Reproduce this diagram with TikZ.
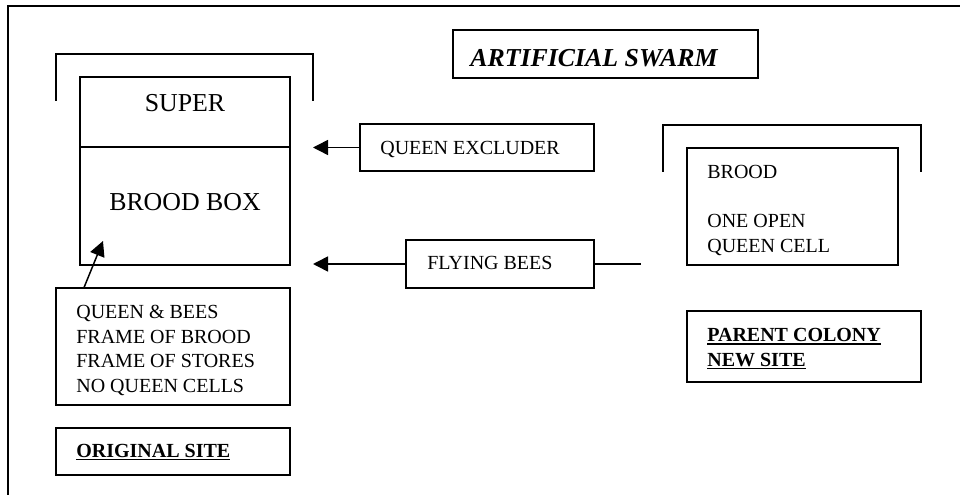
\documentclass[tikz,border=0pt]{standalone}
\usepackage{fontspec}
\setmainfont{Liberation Serif}
\usetikzlibrary{arrows.meta,calc}
% thick underline for the site labels
\newcommand{\sitebar}[1]{\vtop{\hbox{#1}\kern1pt\hrule height 0.9pt}}

\begin{document}
\begin{tikzpicture}[x=0.6pt,y=-0.6pt,
  box/.style={draw,line width=1pt,rectangle,inner sep=0pt},
  txt/.style={inner sep=0pt,anchor=base west,align=left,
    font=\fontsize{12}{14.7}\selectfont},
  big/.style={inner sep=0pt,anchor=base,font=\fontsize{15.5}{18}\selectfont},
  arr/.style={-{Triangle[length=9pt,width=9pt]},line width=0.9pt},
  lid/.style={line width=1pt}]
\useasboundingbox (0,0) rectangle (960,495);

% outer frame
\draw[line width=0.7pt] (960,6) -| (8,495);

% title
\node[box,minimum width=183pt,minimum height=28.8pt] (title) at (605.5,54) {};
\node[big,anchor=base west,font=\fontsize{15.5}{18}\selectfont\bfseries\itshape] (ttitle) at (470,67) {ARTIFICIAL SWARM};

% original hive: roof, super and brood box
\draw[lid] (56,101) |- (313,54) -- (313,101);
\node[box,minimum width=126pt,minimum height=42pt] (super) at (185,112) {};
\node[big] (tsuper) at (185,112) {SUPER};
\node[box,minimum width=126pt,minimum height=70.8pt] (broodbox) at (185,206) {};
\node[big] (tbroodbox) at (185,211) {BROOD BOX};

% queen excluder
\node[box,minimum width=140.4pt,minimum height=28.2pt] (qe) at (477,147.5) {};
\node[txt] (tqe) at (380,155) {QUEEN EXCLUDER};

% flying bees
\node[box,minimum width=112.8pt,minimum height=28.8pt] (fb) at (500,264) {};
\node[txt] (tfb) at (427,270) {FLYING BEES};

% contents of the swarm box (multi-line labels sit on their last baseline)
\node[box,minimum width=140.4pt,minimum height=70.2pt] (qb) at (173,346.5) {};
\node[txt] (tqb) at (76,392) {QUEEN \& BEES\\FRAME OF BROOD\\FRAME OF STORES\\NO QUEEN CELLS};

\node[box,minimum width=140.4pt,minimum height=28.2pt] (os) at (173,451.5) {};
\node[txt,font=\fontsize{12}{14.7}\selectfont\bfseries] (tos) at (76,457) {\sitebar{ORIGINAL SITE}};

% parent colony hive
\draw[lid] (663,172) |- (921,125) -- (921,172);
\node[box,minimum width=126.6pt,minimum height=70.2pt] (rbrood) at (792.5,206.5) {};
\node[txt] (trbrood) at (707,252) {BROOD\\[14.7pt]ONE OPEN\\QUEEN CELL};

\node[box,minimum width=140.4pt,minimum height=42.6pt] (pc) at (804,346.5) {};
\node[txt,font=\fontsize{12}{14.7}\selectfont\bfseries] (tpc) at (707,366) {\sitebar{PARENT COLONY}\\\sitebar{NEW SITE}};

% connectors
\coordinate (qetip) at (313,147.5);
\coordinate (fbtip) at (313,264);
\coordinate (fbend) at (641,264);
\coordinate (qtip) at (103,241);
\draw[arr] (qe.west) -- (qetip);
\draw[arr] (fb.west) -- (fbtip);
\draw[line width=0.9pt] (fb.east) -- (fbend);
\draw[arr] ($(qb.north west)+(29,0)$) -- (qtip);
\end{tikzpicture}
\end{document}
